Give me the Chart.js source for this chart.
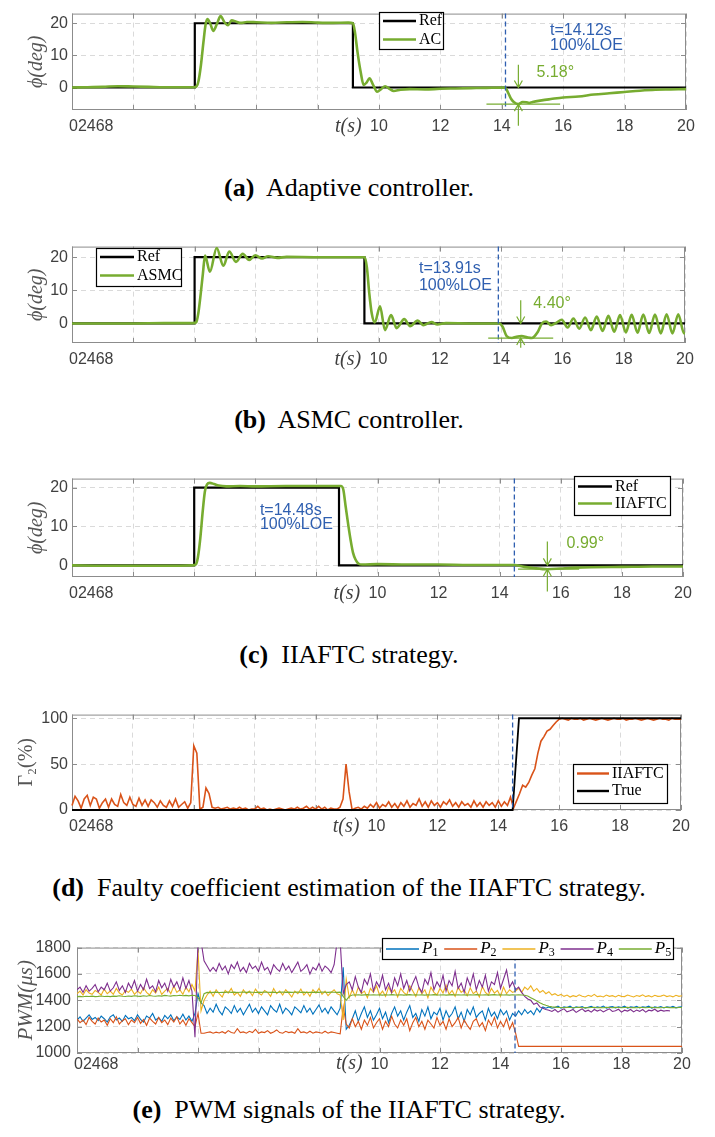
<!DOCTYPE html>
<html>
<head>
<meta charset="utf-8">
<script src="https://cdn.jsdelivr.net/npm/chart.js@4.4.1/dist/chart.umd.min.js"></script>
<style>
  body { margin: 0; background: #fff; }
  #page { position: relative; width: 715px; height: 1137px; overflow: hidden; }
  .panel { position: absolute; left: 0; width: 715px; }
  .cap { position: absolute; left: 0; width: 698px; text-align: center; white-space: nowrap;
         font: 26px 'Liberation Serif', 'Times New Roman', serif; line-height: 30px; color: #000; }
</style>
</head>
<body>
<div id="page">
  <div class="panel" style="top:0px"><canvas id="chartA" width="715" height="140"></canvas></div>
  <div class="cap" style="top:173px"><b>(a)</b>&nbsp; Adaptive controller.</div>
  <div class="panel" style="top:233px"><canvas id="chartB" width="715" height="140"></canvas></div>
  <div class="cap" style="top:405px"><b>(b)</b>&nbsp; ASMC controller.</div>
  <div class="panel" style="top:465px"><canvas id="chartC" width="715" height="142"></canvas></div>
  <div class="cap" style="top:640px"><b>(c)</b>&nbsp; IIAFTC strategy.</div>
  <div class="panel" style="top:701px"><canvas id="chartD" width="715" height="139"></canvas></div>
  <div class="cap" style="top:873px"><b>(d)</b>&nbsp; Faulty coefficient estimation of the IIAFTC strategy.</div>
  <div class="panel" style="top:932px"><canvas id="chartE" width="715" height="151"></canvas></div>
  <div class="cap" style="top:1095px"><b>(e)</b>&nbsp; PWM signals of the IIAFTC strategy.</div>
</div>
<script>
// axis ticks
const xTicks = [0, 2, 4, 6, 8, 10, 12, 14, 16, 18, 20];
const yTicksPhi = [0, 10, 20];
const yTicksGamma = [0, 50, 100];
const yTicksPwm = [1000, 1200, 1400, 1600, 1800];

// (a) adaptive controller, roll angle (deg)
const refAT = [0, 4, 4, 9.15, 9.15, 20];
const refAY = [0, 0, 20, 20, 0, 0];
const acT = [0, 0.5, 1, 1.5, 2, 2.5, 3, 3.5,
  3.95, 4.05, 4.12, 4.2, 4.28, 4.35, 4.41,
  4.5, 4.6, 4.72, 4.84, 4.96, 5.08, 5.2, 5.35, 5.5, 5.7,
  6, 6.5, 7, 7.5, 8, 8.5, 9,
  9.15, 9.22, 9.3, 9.4, 9.5, 9.6, 9.69, 9.8, 9.94,
  10.07, 10.2, 10.34, 10.48, 10.7,
  11, 11.5, 12, 12.5, 13, 13.5,
  14.1, 14.2, 14.3, 14.4, 14.54, 14.68, 14.8, 14.89,
  15, 15.3, 15.6,
  16, 16.5, 17, 17.5, 18, 18.5, 19, 19.5, 20];
const acY = [0, 0.1, 0.2, 0.4, 0.3, 0.2, 0.1, 0.1,
  0.1, 0.3, 2, 7, 14, 19.5, 21.3,
  20.0, 17.6, 19.8, 22.2, 20.4, 19.4, 20.9, 20.5, 20.1, 20.4,
  20.3, 20.1, 20.3, 20.4, 20.2, 20.1, 20.2,
  20, 17, 11, 5, 0.8, 1.6, 2.9, 1.0, -1.3,
  -0.5, 0.4, -0.4, -1.1, -0.7,
  -0.5, -0.6, -0.4, -0.3, -0.2, -0.1,
  0, -1.5, -3.5, -4.6, -5.18, -4.5, -4.6, -4.8,
  -4.5, -4.0, -3.6,
  -3.1, -2.8, -2.2, -1.8, -1.4, -1.0, -0.7, -0.6, -0.5];

// (b) ASMC controller
const refBT = [0, 4, 4, 9.54, 9.54, 20];
const refBY = [0, 0, 20, 20, 0, 0];
const asT = [0, 1, 2, 3,
  3.95, 4.05, 4.12, 4.2, 4.27, 4.34,
  4.5, 4.72, 4.94, 5.13, 5.35, 5.57, 5.78, 5.98, 6.2, 6.4, 6.7, 7, 8, 9,
  9.55, 9.62, 9.7, 9.78, 9.88,
  10.05, 10.21, 10.41, 10.59, 10.84, 11.03, 11.28, 11.46, 11.73, 11.92, 12.2, 13,
  13.95, 14.05, 14.18, 14.35, 14.5, 14.67, 14.85, 15.0, 15.2, 15.33, 15.47, 15.63, 15.8,
  15.98, 16.17, 16.36, 16.55, 16.74, 16.93, 17.12, 17.31, 17.5, 17.69, 17.88,
  18.07, 18.26, 18.45, 18.64, 18.83, 19.02, 19.21, 19.4, 19.59, 19.78, 19.97, 20];
const asY = [0, 0, 0, 0.1,
  0.1, 0.3, 3, 9, 15, 20.5,
  15.6, 22.8, 17.4, 21.7, 18.6, 21.0, 19.2, 20.6, 19.6, 20.3, 19.8, 20.1, 20, 20,
  20, 17, 9, 3, 0.3,
  5.2, -2.0, 2.5, -1.4, 1.3, -0.8, 0.9, -0.5, 0.4, -0.3, 0.1, 0,
  0, -1.0, -3.8, -4.4, -4.0, -3.8, -4.2, -4.4, -2.5, 0, 0.6, -0.5, 0.2,
  1.1, -1.2, 1.5, -1.6, 1.8, -2.0, 2.1, -2.3, 2.3, -2.5, 2.5,
  -2.7, 2.6, -2.8, 2.7, -2.9, 2.7, -3.0, 2.8, -3.0, 2.8, -3.0, -2.6];

// (c) IIAFTC strategy
const refCT = [0, 4, 4, 8.74, 8.74, 20];
const refCY = [0, 0, 20, 20, 0, 0];
const icT = [0, 1, 2, 3,
  3.95, 4.05, 4.12, 4.2, 4.28, 4.35, 4.42, 4.51, 4.65, 4.8, 5.05, 5.5,
  6, 7, 8,
  8.8, 8.88, 8.96, 9.05, 9.12, 9.2, 9.28, 9.37, 9.5,
  10, 11, 12, 13, 14, 14.48,
  14.8, 15.1, 15.56, 16, 16.5, 17, 18, 19, 20];
const icY = [0, -0.1, -0.1, -0.1,
  0, 0.2, 2, 7, 14, 19, 20.8, 21.2, 20.9, 20.5, 20.3, 20.4,
  20.3, 20.4, 20.4,
  20.4, 19.5, 15, 10, 6.5, 3.2, 1.5, 0.5, 0.2,
  0.3, 0.2, 0.2, 0.1, 0.1, 0.1,
  -0.4, -0.7, -0.99, -0.8, -0.6, -0.5, -0.4, -0.3, -0.3];

// (d) fault coefficient estimate (%), sampled every 0.1 s
const dt = 0.1;
const trueT = [0, 14.47, 14.68, 20];
const trueY = [0, 0, 100, 100];
const gamma = [
  5, 15, 10, 2, 12, 16, 5, 14, 12, 2,
  8, 12, 3, 12, 6, 4, 17, 8, 5, 14,
  6, 4, 13, 5, 11, 4, 11, 8, 3, 10,
  5, 3, 10, 4, 12, 3, 6, 9, 2, 8,
  70, 62, 1, 3, 24, 18, 3, 2, 3, 1,
  2, 3, 1, 2, 1, 3, 1, 2, 0, 1,
  1, 4, 1, 2, 0, 1, 0, 1, 2, 1,
  0, 1, 2, 1, 3, 1, 2, 4, 1, 3,
  1, 4, 1, 3, 0, 2, 1, 1, 3, 12,
  50, 20, 0, 2, 3, 1, 4, 2, 6, 3,
  8, 2, 6, 4, 9, 3, 7, 2, 8, 4,
  10, 3, 7, 5, 12, 4, 9, 3, 10, 5,
  8, 3, 9, 6, 11, 4, 8, 3, 9, 5,
  7, 3, 10, 4, 8, 3, 9, 5, 8, 3,
  10, 4, 9, 5, 14, 2, 10, 18, 27, 25,
  30, 38, 45, 62, 75, 80, 86, 88, 92, 96,
  99, 100, 99, 98, 100, 99, 99, 100, 98, 99,
  100, 99, 98, 99, 100, 99, 98, 99, 100, 99,
  99, 100, 98, 99, 99, 100, 99, 98, 99, 100,
  99, 98, 99, 100, 99, 99, 98, 100, 99, 99,
  99];

// (e) PWM signals (us), sampled every 0.1 s
const p1 = [
  1250, 1275, 1240, 1265, 1290, 1255, 1270, 1245, 1280, 1260,
  1235, 1275, 1290, 1250, 1265, 1240, 1285, 1260, 1270, 1245,
  1290, 1255, 1235, 1280, 1265, 1300, 1250, 1270, 1240, 1285,
  1260, 1290, 1245, 1275, 1255, 1295, 1250, 1280, 1240, 1300,
  1450, 1380, 1360, 1300, 1340, 1310, 1370, 1320, 1290, 1350,
  1330, 1300, 1360, 1310, 1340, 1290, 1330, 1370, 1310, 1340,
  1300, 1350, 1320, 1290, 1360, 1330, 1310, 1370, 1300, 1340,
  1320, 1290, 1350, 1330, 1305, 1360, 1310, 1340, 1295, 1330,
  1365, 1310, 1340, 1300, 1350, 1320, 1290, 1340, 1650, 1180,
  1210, 1260, 1320, 1240, 1300, 1350, 1270, 1320, 1250, 1290,
  1340, 1260, 1310, 1230, 1300, 1350, 1280, 1320, 1250, 1310,
  1360, 1270, 1300, 1240, 1330, 1280, 1350, 1260, 1310, 1290,
  1340, 1250, 1320, 1270, 1300, 1350, 1260, 1310, 1240, 1330,
  1290, 1350, 1270, 1300, 1320, 1250, 1340, 1280, 1310, 1260,
  1330, 1290, 1320, 1250, 1300, 1280, 1320, 1290, 1330, 1300,
  1320, 1290, 1340, 1310, 1350, 1340, 1350, 1340, 1345, 1355,
  1340, 1350, 1345, 1355, 1340, 1350, 1345, 1352, 1340, 1348,
  1355, 1342, 1350, 1345, 1356, 1340, 1348, 1352, 1343, 1350,
  1345, 1355, 1340, 1350, 1346, 1354, 1342, 1350, 1347, 1355,
  1340, 1350, 1345, 1353, 1342, 1350, 1346, 1355, 1343, 1348,
  1350];
const p2 = [
  1260, 1230, 1250, 1215, 1270, 1240, 1220, 1265, 1235, 1250,
  1210, 1260, 1230, 1275, 1220, 1245, 1260, 1215, 1250, 1230,
  1270, 1225, 1255, 1210, 1265, 1240, 1220, 1270, 1230, 1250,
  1215, 1265, 1235, 1275, 1220, 1250, 1210, 1260, 1230, 1200,
  1300, 1150, 1150, 1155, 1160, 1150, 1158, 1152, 1162, 1150,
  1170, 1155, 1150, 1185, 1155, 1160, 1150, 1165, 1155, 1180,
  1150, 1160, 1155, 1170, 1150, 1160, 1175, 1155, 1150, 1165,
  1155, 1160, 1150, 1185, 1155, 1160, 1150, 1165, 1150, 1160,
  1155, 1150, 1165, 1150, 1160, 1155, 1150, 1145, 1350, 1220,
  1190, 1260, 1200, 1240, 1180, 1250, 1210, 1270, 1190, 1230,
  1260, 1180, 1240, 1200, 1280, 1220, 1190, 1250, 1210, 1260,
  1170, 1230, 1270, 1200, 1240, 1180, 1250, 1220, 1190, 1270,
  1210, 1240, 1180, 1260, 1200, 1230, 1270, 1190, 1250, 1210,
  1180, 1240, 1260, 1200, 1230, 1170, 1250, 1210, 1270, 1190,
  1240, 1200, 1260, 1180, 1230, 1150, 1050, 1050, 1050, 1050,
  1050, 1050, 1050, 1050, 1050, 1050, 1050, 1050, 1050, 1050,
  1050, 1050, 1050, 1050, 1050, 1050, 1050, 1050, 1050, 1050,
  1050, 1050, 1050, 1050, 1050, 1050, 1050, 1050, 1050, 1050,
  1050, 1050, 1050, 1050, 1050, 1050, 1050, 1050, 1050, 1050,
  1050, 1050, 1050, 1050, 1050, 1050, 1050, 1050, 1050, 1050,
  1050];
const p3 = [
  1450, 1470, 1440, 1480, 1455, 1445, 1475, 1460, 1440, 1485,
  1450, 1470, 1445, 1490, 1455, 1440, 1475, 1460, 1485, 1445,
  1470, 1450, 1495, 1460, 1440, 1480, 1455, 1500, 1445, 1470,
  1490, 1450, 1510, 1460, 1480, 1445, 1500, 1465, 1520, 1470,
  1780, 1320, 1400, 1440, 1470, 1430, 1480, 1450, 1425, 1475,
  1455, 1490, 1440, 1460, 1430, 1480, 1450, 1470, 1435, 1485,
  1455, 1440, 1475, 1460, 1430, 1490, 1450, 1470, 1440, 1480,
  1455, 1425, 1470, 1450, 1485, 1440, 1465, 1430, 1480, 1455,
  1490, 1445, 1470, 1435, 1460, 1480, 1450, 1440, 1250, 1560,
  1420, 1480, 1430, 1500, 1450, 1470, 1420, 1490, 1460, 1510,
  1440, 1470, 1430, 1500, 1455, 1480, 1425, 1490, 1460, 1440,
  1510, 1470, 1430, 1495, 1450, 1480, 1420, 1500, 1460, 1440,
  1490, 1455, 1515, 1445, 1475, 1430, 1500, 1460, 1480, 1435,
  1495, 1450, 1470, 1425, 1505, 1460, 1440, 1490, 1455, 1475,
  1430, 1500, 1450, 1480, 1460, 1470, 1490, 1460, 1500, 1480,
  1510, 1470, 1490, 1460, 1475, 1450, 1465, 1440, 1450, 1435,
  1445, 1430, 1440, 1425, 1435, 1428, 1442, 1430, 1425, 1438,
  1430, 1445, 1428, 1432, 1425, 1440, 1430, 1435, 1425, 1438,
  1430, 1428, 1440, 1432, 1425, 1436, 1430, 1442, 1428, 1435,
  1425, 1438, 1430, 1432, 1440, 1428, 1434, 1426, 1438, 1430,
  1435];
const p4 = [
  1480, 1500, 1460, 1510, 1470, 1490, 1520, 1465, 1500, 1480,
  1530, 1470, 1495, 1540, 1475, 1510, 1460, 1530, 1490, 1550,
  1470, 1520, 1480, 1560, 1490, 1510, 1465, 1550, 1495, 1530,
  1470, 1560, 1500, 1540, 1480, 1570, 1490, 1550, 1470, 1120,
  1850, 1850, 1700, 1660, 1620, 1650, 1620, 1680, 1630, 1660,
  1600, 1670, 1640, 1690, 1620, 1650, 1610, 1680, 1640, 1660,
  1620, 1690, 1630, 1650, 1600, 1670, 1640, 1620, 1680, 1630,
  1660, 1610, 1650, 1690, 1620, 1640, 1670, 1600, 1650, 1630,
  1680, 1620, 1660, 1640, 1610, 1670, 1850, 1850, 1450, 1520,
  1540, 1480, 1580, 1500, 1460, 1560, 1520, 1600, 1470, 1540,
  1500, 1590, 1480, 1530, 1460, 1570, 1510, 1600, 1490, 1550,
  1470, 1530, 1580, 1500, 1460, 1560, 1520, 1610, 1480, 1540,
  1500, 1590, 1470, 1550, 1510, 1620, 1490, 1530, 1460, 1570,
  1510, 1600, 1480, 1550, 1500, 1590, 1470, 1540, 1520, 1610,
  1490, 1560, 1630, 1500, 1540, 1480, 1500, 1460, 1430, 1410,
  1400, 1370, 1380, 1350, 1340, 1330, 1325, 1315, 1330, 1310,
  1325, 1335, 1312, 1320, 1330, 1308, 1322, 1335, 1315, 1325,
  1310, 1330, 1318, 1328, 1312, 1325, 1335, 1315, 1320, 1332,
  1310, 1325, 1318, 1330, 1312, 1326, 1316, 1330, 1310, 1325,
  1320, 1332, 1315, 1325, 1318, 1322, 1320, null, null, null,
  null];
const p5 = [
  1428, 1430, 1427, 1431, 1429, 1432, 1428, 1430, 1433, 1429,
  1431, 1428, 1432, 1430, 1434, 1431, 1429, 1433, 1430, 1435,
  1432, 1430, 1434, 1431, 1436, 1433, 1431, 1435, 1432, 1437,
  1434, 1432, 1436, 1434, 1438, 1435, 1437, 1434, 1438, 1436,
  1420, 1380, 1450, 1460, 1458, 1460, 1462, 1459, 1461, 1460,
  1463, 1460, 1462, 1459, 1461, 1463, 1460, 1462, 1461, 1459,
  1462, 1460, 1463, 1461, 1460, 1462, 1459, 1461, 1463, 1460,
  1462, 1460, 1461, 1463, 1460, 1462, 1459, 1461, 1460, 1462,
  1460, 1463, 1461, 1460, 1462, 1461, 1460, 1462, 1430, 1400,
  1430, 1440, 1440, 1442, 1439, 1441, 1443, 1440, 1442, 1440,
  1441, 1439, 1442, 1440, 1443, 1441, 1440, 1442, 1439, 1441,
  1443, 1440, 1442, 1440, 1441, 1439, 1442, 1440, 1443, 1441,
  1440, 1442, 1439, 1441, 1443, 1440, 1442, 1440, 1441, 1439,
  1442, 1440, 1443, 1441, 1440, 1442, 1439, 1441, 1443, 1440,
  1442, 1440, 1441, 1439, 1442, 1440, 1441, 1440, 1438, 1432,
  1420, 1408, 1395, 1382, 1370, 1362, 1355, 1350, 1348, 1346,
  1345, 1344, 1346, 1345, 1343, 1345, 1346, 1344, 1345, 1343,
  1345, 1346, 1344, 1345, 1343, 1346, 1345, 1344, 1346, 1345,
  1344, 1345, 1346, 1343, 1345, 1344, 1346, 1345, 1343, 1345,
  1346, 1344, 1345, 1343, 1345, 1346, 1344, 1345, 1343, 1345,
  1345];

const green = '#77AC30';
const pwmColors = ['#0072BD', '#D95319', '#EDB120', '#7E2F8E', '#77AC30'];
const loeBlue = '#2f5fb0';
const tickColor = '#404040';
const titleColor = '#555555';
const boxColor = '#8c8c8c';
const gridColor = '#dadada';
const sans = "'Liberation Sans', Arial, sans-serif";
const serif = "'Liberation Serif', 'Times New Roman', serif";
const tickSize = 16;

const pairs = (ts, ys) => ts.map((t, i) => ({x: t, y: ys[i]}));
const sampled = ys => ys.map((v, i) => ({x: i * dt, y: v})).filter(p => p.y !== null);

function arrow(ctx, px, y0, y1) {
  const dir = y1 > y0 ? 1 : -1;
  ctx.beginPath();
  ctx.moveTo(px, y0); ctx.lineTo(px, y1);
  ctx.moveTo(px - 4, y1 - dir * 7); ctx.lineTo(px, y1); ctx.lineTo(px + 4, y1 - dir * 7);
  ctx.stroke();
}

function decor(p) {
  return {
    id: 'decor',
    beforeDatasetsDraw(chart) {
      const {ctx, chartArea: a, scales: {x, y}} = chart;
      ctx.save();
      ctx.strokeStyle = boxColor;
      ctx.lineWidth = 1;
      ctx.strokeRect(a.left + 0.5, a.top + 0.5, a.width - 1, a.height - 1);
      ctx.beginPath();
      xTicks.forEach(v => {
        const px = Math.round(x.getPixelForValue(v)) + 0.5;
        ctx.moveTo(px, a.bottom); ctx.lineTo(px, a.bottom - 5);
        ctx.moveTo(px, a.top); ctx.lineTo(px, a.top + 5);
      });
      p.yTicks.forEach(v => {
        const py = Math.round(y.getPixelForValue(v)) + 0.5;
        ctx.moveTo(a.left, py); ctx.lineTo(a.left + 5, py);
        ctx.moveTo(a.right, py); ctx.lineTo(a.right - 5, py);
      });
      ctx.stroke();
      ctx.restore();
    },
    afterDraw(chart) {
      const {ctx, chartArea: a, scales: {x, y}} = chart;
      ctx.save();
      ctx.textBaseline = 'middle';

      // fault instant
      if (p.loe) {
        const px = x.getPixelForValue(p.loe.t);
        ctx.strokeStyle = loeBlue;
        ctx.lineWidth = 1.3;
        ctx.setLineDash([5, 3]);
        ctx.beginPath(); ctx.moveTo(px, a.top); ctx.lineTo(px, a.bottom); ctx.stroke();
        ctx.setLineDash([]);
        if (p.loe.text) {
          ctx.fillStyle = loeBlue;
          ctx.font = '16px ' + sans;
          ctx.textAlign = 'left';
          p.loe.text.forEach((s, i) => ctx.fillText(s, x.getPixelForValue(p.loe.tx), y.getPixelForValue(p.loe.ty[i])));
        }
      }

      // max deviation marker
      if (p.dim) {
        const d = p.dim, px = x.getPixelForValue(d.t);
        ctx.strokeStyle = green;
        ctx.fillStyle = green;
        ctx.lineWidth = 1.2;
        ctx.beginPath();
        ctx.moveTo(x.getPixelForValue(d.x0), y.getPixelForValue(d.lo));
        ctx.lineTo(x.getPixelForValue(d.x1), y.getPixelForValue(d.lo));
        ctx.stroke();
        arrow(ctx, px, y.getPixelForValue(d.tailHi), y.getPixelForValue(d.hi));
        arrow(ctx, px, y.getPixelForValue(d.tailLo), y.getPixelForValue(d.lo));
        ctx.font = '16px ' + sans;
        ctx.textAlign = 'left';
        ctx.fillText(d.text, x.getPixelForValue(d.tx), y.getPixelForValue(d.ty));
      }

      // squeezed low tick labels and the time label
      const ly = a.bottom + p.tickPad + tickSize * 0.6;
      ctx.fillStyle = tickColor;
      ctx.font = tickSize + 'px ' + sans;
      ctx.textAlign = 'left';
      ctx.fillText(xTicks.filter(v => v < 10).join(''), a.left - 3, ly);
      ctx.font = 'italic 20px ' + serif;
      ctx.textAlign = 'center';
      ctx.fillText('t(s)', x.getPixelForValue(9), ly);

      // legend
      const L = p.legend;
      ctx.fillStyle = '#fff';
      ctx.fillRect(L.x, L.y, L.w, L.h);
      ctx.strokeStyle = '#000';
      ctx.lineWidth = 1.2;
      ctx.strokeRect(L.x + 0.5, L.y + 0.5, L.w, L.h);
      L.items.forEach((di, i) => {
        const ds = chart.data.datasets[di];
        const lx = L.horizontal ? L.x + 4 + i * 58.2 : L.x + 4;
        const yy = L.horizontal ? L.y + 11 : L.y + L.row0 + i * L.gap;
        ctx.strokeStyle = ds.borderColor;
        ctx.lineWidth = L.horizontal ? 1.3 : 2.4;
        ctx.beginPath(); ctx.moveTo(lx, yy); ctx.lineTo(lx + L.len, yy); ctx.stroke();
        ctx.fillStyle = '#000';
        ctx.textAlign = 'left';
        if (L.horizontal) {
          ctx.font = 'italic 17px ' + serif;
          ctx.fillText(ds.label[0], lx + L.len + 3, yy);
          const w = ctx.measureText(ds.label[0]).width;
          ctx.font = '12px ' + serif;
          ctx.fillText(ds.label.slice(1), lx + L.len + 3 + w, yy + 4);
        } else {
          ctx.font = '16px ' + serif;
          ctx.fillText(ds.label, lx + L.len + 3, yy);
        }
      });
      ctx.restore();
    }
  };
}

function makePanel(id, p) {
  return new Chart(document.getElementById(id), {
    type: 'line',
    data: {datasets: p.datasets},
    options: {
      responsive: false,
      animation: false,
      devicePixelRatio: 1,
      layout: {autoPadding: false, padding: {top: 2, right: p.right, left: 0, bottom: 0}},
      plugins: {legend: {display: false}, tooltip: {enabled: false}},
      elements: {point: {radius: 0}},
      scales: {
        x: {
          type: 'linear', min: 0, max: 20,
          afterBuildTicks: s => { s.ticks = xTicks.map(v => ({value: v})); },
          afterFit: s => { s.height = 30; },
          grid: {color: gridColor, drawTicks: false},
          border: {display: false, dash: [5, 4]},
          ticks: {
            padding: p.tickPad, color: tickColor, autoSkip: false, maxRotation: 0,
            font: {family: sans, size: tickSize},
            callback: v => (v >= 10 ? String(v) : '')
          }
        },
        y: {
          min: p.yMin, max: p.yMax,
          afterBuildTicks: s => { s.ticks = p.yTicks.map(v => ({value: v})); },
          afterFit: s => { s.width = p.left; },
          grid: {color: gridColor, drawTicks: false},
          border: {display: false, dash: [5, 4]},
          ticks: {padding: p.yPad, color: tickColor, font: {family: sans, size: tickSize},
                  callback: v => String(v)},
          title: {
            display: true, text: p.yTitle, color: titleColor,
            font: {family: serif, size: p.titleSize, style: p.titleStyle},
            padding: {top: p.titlePad, bottom: 0}
          }
        }
      }
    },
    plugins: [decor(p)]
  });
}

makePanel('chartA', {
  right: 29, left: 72, yMin: -7, yMax: 23, yTicks: yTicksPhi, yPad: 4, tickPad: 7,
  yTitle: 'ϕ(deg)', titleSize: 20, titleStyle: 'italic', titlePad: 25,
  datasets: [
    {label: 'Ref', data: pairs(refAT, refAY), borderColor: '#000', borderWidth: 2.2, order: 1},
    {label: 'AC', data: pairs(acT, acY), borderColor: green, borderWidth: 2.6, cubicInterpolationMode: 'monotone', order: 0}
  ],
  legend: {x: 379, y: 12, w: 64, h: 37, row0: 9, gap: 18.5, len: 33, items: [0, 1]},
  loe: {t: 14.12, text: ['t=14.12s', '100%LOE'], tx: 15.57, ty: [17.8, 13.1]},
  dim: {t: 14.54, hi: 0, lo: -5.18, tailHi: 7.1, tailLo: -11.9, x0: 13.5, x1: 15.9, text: '5.18°', tx: 15.13, ty: 4.5}
});

makePanel('chartB', {
  right: 30, left: 72, yMin: -5.9, yMax: 23.2, yTicks: yTicksPhi, yPad: 4, tickPad: 7,
  yTitle: 'ϕ(deg)', titleSize: 20, titleStyle: 'italic', titlePad: 25,
  datasets: [
    {label: 'Ref', data: pairs(refBT, refBY), borderColor: '#000', borderWidth: 2.2, order: 1},
    {label: 'ASMC', data: pairs(asT, asY), borderColor: green, borderWidth: 2.6, cubicInterpolationMode: 'monotone', order: 0}
  ],
  legend: {x: 96, y: 15, w: 85, h: 38, row0: 9, gap: 18.5, len: 34, items: [0, 1]},
  loe: {t: 13.91, text: ['t=13.91s', '100%LOE'], tx: 11.32, ty: [16.5, 11.5]},
  dim: {t: 14.64, hi: 0, lo: -4.4, tailHi: 7.0, tailLo: -7.3, x0: 13.58, x1: 15.7, text: '4.40°', tx: 15.05, ty: 5.9}
});

makePanel('chartC', {
  right: 32, left: 72, yMin: -3, yMax: 22.3, yTicks: yTicksPhi, yPad: 4, tickPad: 7,
  yTitle: 'ϕ(deg)', titleSize: 20, titleStyle: 'italic', titlePad: 25,
  datasets: [
    {label: 'Ref', data: pairs(refCT, refCY), borderColor: '#000', borderWidth: 2.2, order: 1},
    {label: 'IIAFTC', data: pairs(icT, icY), borderColor: green, borderWidth: 2.6, cubicInterpolationMode: 'monotone', order: 0}
  ],
  legend: {x: 574, y: 11, w: 96, h: 39, row0: 10.5, gap: 17, len: 34, items: [0, 1]},
  loe: {t: 14.48, text: ['t=14.48s', '100%LOE'], tx: 6.15, ty: [13.95, 10.5]},
  dim: {t: 15.56, hi: 0, lo: -0.99, tailHi: 6.1, tailLo: -6.7, x0: 14.6, x1: 16.6, text: '0.99°', tx: 16.19, ty: 5.5}
});

makePanel('chartD', {
  right: 34, left: 72, yMin: 0, yMax: 104, yTicks: yTicksGamma, yPad: 4, tickPad: 7,
  yTitle: 'Γ₂(%)', titleSize: 20, titleStyle: 'normal', titlePad: 15,
  datasets: [
    {label: 'IIAFTC', data: sampled(gamma), borderColor: '#D95319', borderWidth: 1.6, clip: 3, order: 1},
    {label: 'True', data: pairs(trueT, trueY), borderColor: '#000', borderWidth: 1.8, clip: 3, order: 0}
  ],
  legend: {x: 573, y: 63, w: 94, h: 39, row0: 9.5, gap: 17.5, len: 32, items: [0, 1]},
  loe: {t: 14.47}
});

makePanel('chartE', {
  right: 33, left: 77, yMin: 1000, yMax: 1800, yTicks: yTicksPwm, yPad: 6, tickPad: 1.5,
  yTitle: 'PWM(μs)', titleSize: 21, titleStyle: 'italic', titlePad: 14,
  datasets: [p1, p2, p3, p4, p5].map((s, i) => ({
    label: 'P' + (i + 1), data: sampled(s), borderColor: pwmColors[i], borderWidth: 1.1, order: 5 - i
  })),
  legend: {x: 382, y: 6, w: 291, h: 21, len: 33, horizontal: true, items: [0, 1, 2, 3, 4]},
  loe: {t: 14.48}
});
</script>
</body>
</html>
